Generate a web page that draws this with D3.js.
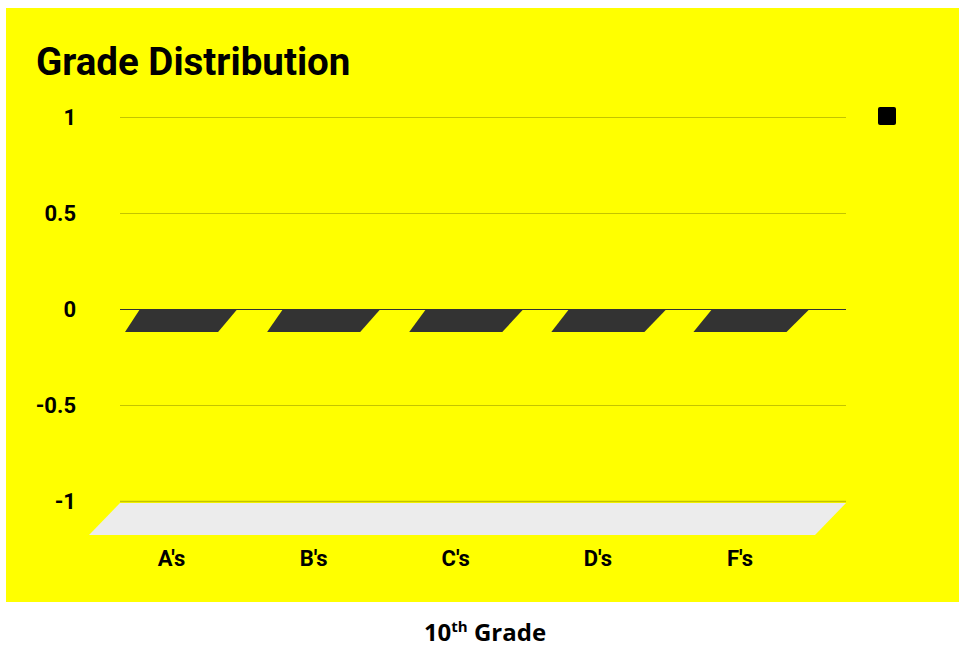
<!DOCTYPE html>
<html>
<head>
<meta charset="utf-8">
<script src="https://cdn.jsdelivr.net/npm/d3@7"></script>
<style>
  body { margin: 0; background: #fff; }
  text { font-family: Roboto, "Noto Sans", sans-serif; }
</style>
</head>
<body>
<div id="chart"></div>
<script>
var categories = ["A's", "B's", "C's", "D's", "F's"];
var values = [0, 0, 0, 0, 0];
var yTicks = [-1, -0.5, 0, 0.5, 1];
var title = "Grade Distribution";

var W = 959, H = 650;
var svg = d3.select("#chart").append("svg")
    .attr("width", W).attr("height", H);

// yellow panel
svg.append("rect")
    .attr("x", 6).attr("y", 8)
    .attr("width", W - 6).attr("height", 594)
    .attr("fill", "#ffff00");

var plotLeft = 120, plotRight = 846;
var yScale = d3.scaleLinear().domain([-1, 1]).range([501, 117]);

// back plane and front plane band scales (the chart is drawn in 3d)
var xBack = d3.scaleBand().domain(categories).range([116.5, 831.5])
    .paddingInner(0.32).paddingOuter(0.16);
var xFront = d3.scaleBand().domain(categories).range([100.5, 811])
    .paddingInner(0.345).paddingOuter(0.1725);
var barDepth = 23;
var floorDx = 31, floorDy = 32;

// grid lines
svg.append("g").selectAll("line")
    .data(yTicks)
    .enter().append("line")
    .attr("x1", plotLeft).attr("x2", plotRight)
    .attr("y1", function (d) { return Math.round(yScale(d)) + 0.5; })
    .attr("y2", function (d) { return Math.round(yScale(d)) + 0.5; })
    .attr("stroke", function (d) { return d == 0 ? "#333333" : "#c4c400"; })
    .attr("stroke-width", function (d) { return d == -1 ? 1.6 : 1; });

// floor
var fy = yScale(-1) + 2;
svg.append("path")
    .attr("d", "M" + plotLeft + "," + fy + "L" + plotRight + "," + fy +
        "L" + (plotRight - floorDx) + "," + (fy + floorDy) +
        "L" + (plotLeft - floorDx) + "," + (fy + floorDy) + "Z")
    .attr("fill", "#ececec");

// y axis labels
svg.append("g").selectAll("text")
    .data(yTicks)
    .enter().append("text")
    .attr("x", 76)
    .attr("y", function (d) { return yScale(d); })
    .attr("dy", "0.35em")
    .attr("text-anchor", "end")
    .style("font-size", "22px")
    .style("font-weight", "bold")
    .text(function (d) { return d; });

// bars (zero height, only top face visible)
svg.append("g").selectAll("path")
    .data(values)
    .enter().append("path")
    .attr("d", function (d, i) {
        var c = categories[i];
        var yb = yScale(d) + 1, yf = yScale(d) + barDepth;
        return "M" + xBack(c) + "," + yb +
            "L" + (xBack(c) + xBack.bandwidth()) + "," + yb +
            "L" + (xFront(c) + xFront.bandwidth()) + "," + yf +
            "L" + xFront(c) + "," + yf + "Z";
    })
    .attr("fill", "#333333");

// category labels
svg.append("g").selectAll("text")
    .data(categories)
    .enter().append("text")
    .attr("x", function (d) { return xFront(d) + xFront.bandwidth() / 2; })
    .attr("y", 566)
    .attr("text-anchor", "middle")
    .style("font-size", "22px")
    .style("font-weight", "bold")
    .text(function (d) { return d; });

// title
svg.append("text")
    .attr("x", 36).attr("y", 75)
    .style("font-size", "38.5px")
    .style("font-weight", "bold")
    .text(title);

// legend symbol
svg.append("rect")
    .attr("x", 878).attr("y", 107)
    .attr("width", 18).attr("height", 18)
    .attr("rx", 2)
    .attr("fill", "#000");

// caption under the chart
var cap = svg.append("text")
    .attr("x", 485).attr("y", 641)
    .attr("text-anchor", "middle")
    .style("font-family", "'Open Sans', sans-serif")
    .style("font-size", "24px")
    .style("font-weight", "bold");
cap.append("tspan").text("10");
cap.append("tspan").attr("dy", -9).style("font-size", "15px").text("th");
cap.append("tspan").attr("dy", 9).text(" Grade");
</script>
</body>
</html>
